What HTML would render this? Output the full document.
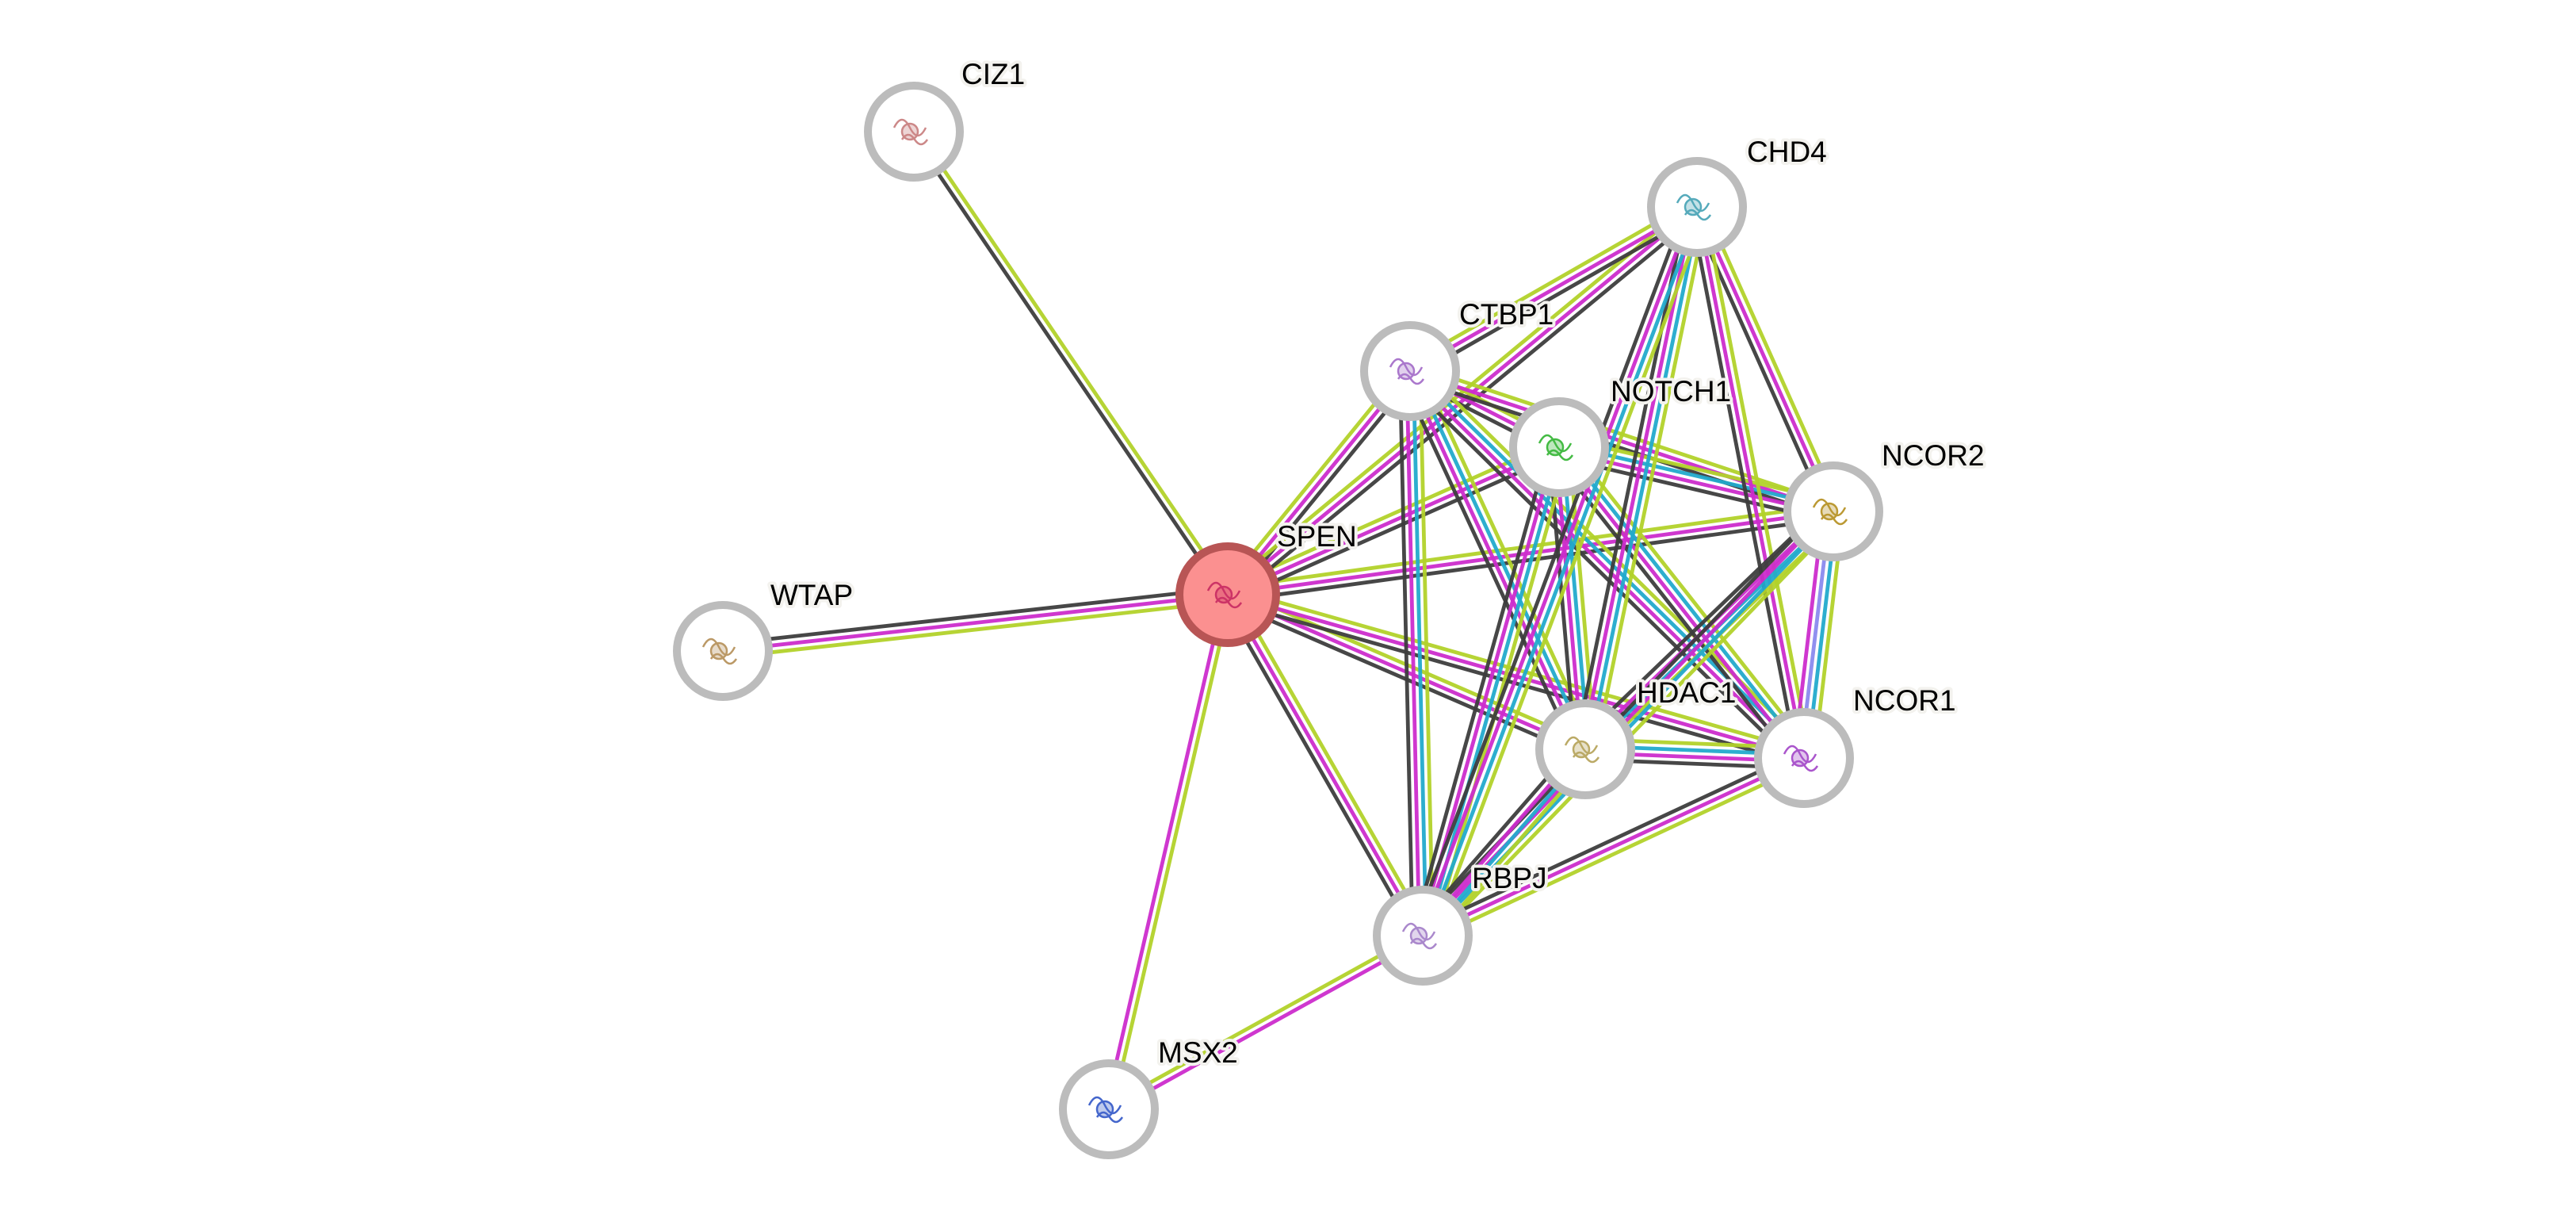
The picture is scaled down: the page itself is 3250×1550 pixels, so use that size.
<!DOCTYPE html>
<html><head><meta charset="utf-8"><style>
html,body{margin:0;padding:0;background:#fff;}
svg{display:block;}
text{font-family:"Liberation Sans",sans-serif;font-size:37px;fill:#000;paint-order:stroke;stroke:#f3f2ee;stroke-width:8px;stroke-linejoin:round;}
</style></head><body>
<svg id="s" width="3250" height="1550" viewBox="0 0 3250 1550" xmlns="http://www.w3.org/2000/svg">
<g id="edges"></g>
<g id="nodes"></g>
<g id="labels">
<text x="1213" y="106">CIZ1</text>
<text x="2204" y="204">CHD4</text>
<text x="1841" y="409">CTBP1</text>
<text x="2032" y="506">NOTCH1</text>
<text x="2374" y="587">NCOR2</text>
<text x="1611" y="689">SPEN</text>
<text x="972" y="763">WTAP</text>
<text x="2065" y="886">HDAC1</text>
<text x="2338" y="896">NCOR1</text>
<text x="1857" y="1120">RBPJ</text>
<text x="1461" y="1340">MSX2</text>
</g>
</svg>
<script>
var N={CIZ1:[1153,166,'#c88'],CHD4:[2141,261,'#5ab'],CTBP1:[1779,468,'#a7c'],NOTCH1:[1967,564,'#4b4'],NCOR2:[2313,645,'#b93'],SPEN:[1549,750,'#c36'],WTAP:[912,821,'#b96'],HDAC1:[2000,945,'#ba6'],NCOR1:[2276,956,'#a5c'],RBPJ:[1795,1180,'#a8c'],MSX2:[1399,1399,'#46c']};
var D='#3d3d3d',M='#cc2ccc',G='#b2d22a',C='#22aacc',B='#8a8aee';
var E=[
['CIZ1','SPEN',[D,G]],['SPEN','WTAP',[D,M,G]],['SPEN','MSX2',[M,G]],['MSX2','RBPJ',[M,G]],
['SPEN','RBPJ',[D,M,G]],['SPEN','HDAC1',[D,M,G]],['SPEN','NCOR1',[D,M,G]],['SPEN','NCOR2',[D,M,G]],
['SPEN','NOTCH1',[D,M,G]],['SPEN','CTBP1',[D,M,G]],['SPEN','CHD4',[D,M,G]],
['CTBP1','CHD4',[D,M,G]],['CTBP1','NOTCH1',[D,M,G]],['CTBP1','RBPJ',[D,M,C,G]],['CTBP1','HDAC1',[D,M,C,G]],
['CTBP1','NCOR1',[D,M,C,G]],['CTBP1','NCOR2',[D,M,G]],
['NOTCH1','NCOR2',[D,M,C,G]],['NOTCH1','HDAC1',[D,M,C,G]],['NOTCH1','NCOR1',[D,M,C,G]],['NOTCH1','RBPJ',[D,M,C,G]],
['CHD4','HDAC1',[D,M,C,G]],['CHD4','NCOR2',[D,M,G]],['CHD4','NCOR1',[D,M,G]],['CHD4','RBPJ',[D,M,C,G]],
['NCOR2','NCOR1',[M,B,C,G]],['NCOR2','HDAC1',[D,M,C,G]],['NCOR2','RBPJ',[D,M,C,G]],
['HDAC1','NCOR1',[D,M,C,G]],['HDAC1','RBPJ',[D,M,C,G]],['NCOR1','RBPJ',[D,M,G]]
];
var ns='http://www.w3.org/2000/svg',eg=document.getElementById('edges'),ng=document.getElementById('nodes');
function el(t,a,p){var e=document.createElementNS(ns,t);for(var k in a)e.setAttribute(k,a[k]);p.appendChild(e);return e;}
E.forEach(function(e){var a=N[e[0]],b=N[e[1]],dx=b[0]-a[0],dy=b[1]-a[1],L=Math.hypot(dx,dy),px=dy/L,py=-dx/L,n=e[2].length,sp=8.5;
e[2].forEach(function(c,i){var o=(i-(n-1)/2)*sp;el('line',{x1:a[0]+px*o,y1:a[1]+py*o,x2:b[0]+px*o,y2:b[1]+py*o,stroke:c,'stroke-width':4.8,'stroke-opacity':0.95},eg);});});
for(var k in N){var p=N[k];
if(k==='SPEN'){el('circle',{cx:p[0],cy:p[1],r:61,fill:'#fb9090',stroke:'#b85555','stroke-width':10},ng);}
else{el('circle',{cx:p[0],cy:p[1],r:58,fill:'#fff',stroke:'#bcbcbc','stroke-width':10},ng);}
var g=el('g',{stroke:p[2],fill:'none','stroke-width':2.5},ng);
el('path',{d:'M'+(p[0]-25)+' '+(p[1]-5)+' q10 -20 20 0 t20 0 M'+(p[0]-15)+' '+(p[1]+10)+' q8 -12 16 0 t16 0'},g);
el('circle',{cx:p[0]-5,cy:p[1],r:10,fill:p[2],'fill-opacity':0.35},g);}
</script>
</body></html>
